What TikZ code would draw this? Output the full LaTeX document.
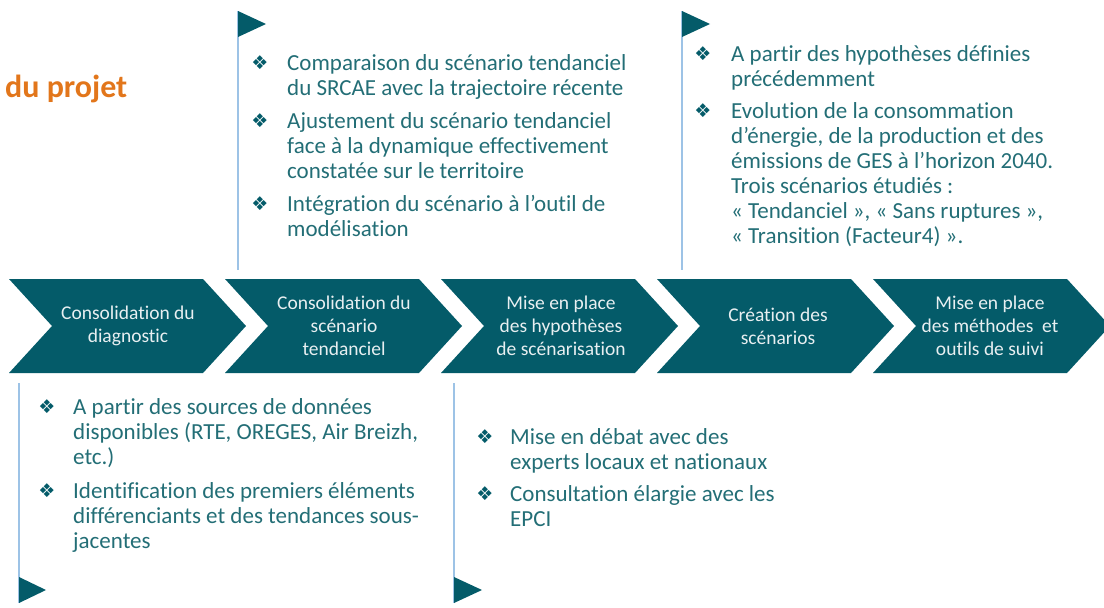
\documentclass[tikz,border=0pt]{standalone}
\usepackage{fontspec}
\setmainfont{Carlito}[Ligatures=NoCommon]
\newfontfamily\symfont{DejaVu Sans}
\definecolor{chev}{HTML}{045B69}
\definecolor{txt}{HTML}{236E76}
\definecolor{flagline}{HTML}{9DC3E6}
\definecolor{orangeT}{HTML}{E2761B}
\definecolor{chevtxt}{HTML}{E8EFF1}
\tikzset{
  chevshape/.style={fill=chev, draw=none},
  chevlabel/.style={align=center, inner sep=0pt, text=chevtxt, font=\fontsize{19.5}{23}\selectfont},
  para/.style={anchor=north west, inner sep=0pt, align=left, text=txt, font=\fontsize{23}{25}\selectfont},
  bul/.style={inner sep=0pt, text=chev, font=\symfont\fontsize{19}{19}\selectfont},
  pole/.style={draw=flagline, line width=1.6pt},
  pennant/.style={fill=chev, draw=none},
}
\newcommand{\fs}{\rule{0pt}{17pt}}
\begin{document}
\begin{tikzpicture}[x=1pt,y=-1pt]
\useasboundingbox (0,0) rectangle (1104,608);
% chevrons
\foreach \i/\l in {1/9,2/225,3/441,4/657,5/873}{
  \fill[chevshape] (\l,279) -- ({\l+194},279) -- ({\l+237},326) -- ({\l+194},373) -- (\l,373) -- ({\l+43},326) -- cycle;
}
\node[chevlabel] (c1) at (128,326) {Consolidation du\\diagnostic};
\node[chevlabel] (c2) at (344,326) {Consolidation du\\scénario\\tendanciel};
\node[chevlabel] (c3) at (561,326) {Mise en place\\des hypothèses\\de scénarisation};
\node[chevlabel] (c4) at (778,326) {Création des\\scénarios};
\node[chevlabel] (c5) at (990,326) {Mise en place\\des méthodes\ \ et\\outils de suivi};
% title fragment
\node[anchor=base west, inner sep=0pt, text=orangeT, font=\bfseries\fontsize{32}{34}\selectfont] (title) at (5,97) {du projet};
% flags
\coordinate (f1t) at (238,11); \coordinate (f1b) at (238,270);
\draw[pole] (f1t) -- (f1b);
\fill[pennant] (238,11) -- (266,24) -- (238,37) -- cycle;
\coordinate (f2t) at (682,11); \coordinate (f2b) at (682,270);
\draw[pole] (f2t) -- (f2b);
\fill[pennant] (682,11) -- (710,24) -- (682,37) -- cycle;
\coordinate (f3t) at (19,383); \coordinate (f3b) at (19,603);
\draw[pole] (f3t) -- (f3b);
\fill[pennant] (19,577) -- (46,590) -- (19,603) -- cycle;
\coordinate (f4t) at (454,383); \coordinate (f4b) at (454,603);
\draw[pole] (f4t) -- (f4b);
\fill[pennant] (454,577) -- (482,590) -- (454,603) -- cycle;
% top block 1
\node[bul] (b11) at (260,63) {❖};
\node[para] (t11) at (287,53) {\fs Comparaison du scénario tendanciel\\du SRCAE avec la trajectoire récente};
\node[bul] (b12) at (260,121) {❖};
\node[para] (t12) at (287,111) {\fs Ajustement du scénario tendanciel\\face à la dynamique effectivement\\constatée sur le territoire};
\node[bul] (b13) at (260,204) {❖};
\node[para] (t13) at (287,194) {\fs Intégration du scénario à l’outil de\\modélisation};
% top block 2
\node[bul] (b21) at (703,54) {❖};
\node[para] (t21) at (731,44) {\fs A partir des hypothèses définies\\précédemment};
\node[bul] (b22) at (703,111) {❖};
\node[para] (t22) at (731,101) {\fs Evolution de la consommation\\d’énergie, de la production et des\\émissions de GES à l’horizon 2040.\\Trois scénarios étudiés :\\« Tendanciel », « Sans ruptures »,\\« Transition (Facteur4) ».};
% bottom block 1
\node[bul] (b31) at (47,407) {❖};
\node[para] (t31) at (73,397) {\fs A partir des sources de données\\disponibles (RTE, OREGES, Air Breizh,\\etc.)};
\node[bul] (b32) at (47,491) {❖};
\node[para] (t32) at (73,481) {\fs Identification des premiers éléments\\différenciants et des tendances sous-\\jacentes};
% bottom block 2
\node[bul] (b41) at (485,437) {❖};
\node[para] (t41) at (510,427) {\fs Mise en débat avec des\\experts locaux et nationaux};
\node[bul] (b42) at (485,494) {❖};
\node[para] (t42) at (510,484) {\fs Consultation élargie avec les\\EPCI};
\end{tikzpicture}
\end{document}
